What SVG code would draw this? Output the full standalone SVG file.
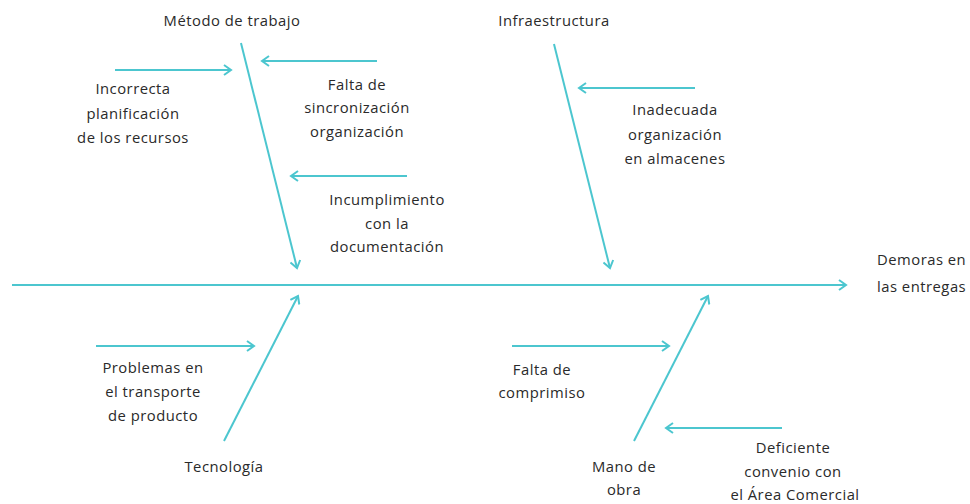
<svg xmlns="http://www.w3.org/2000/svg" width="970" height="504" viewBox="0 0 970 504">
<style>
.c{stroke:#4cc6cf;stroke-width:2;fill:none;marker-end:url(#ah)}
text{font-family:"Open Sans","Liberation Sans",sans-serif;font-size:14.8px;letter-spacing:0.5px;fill:#2a2a2a;text-anchor:middle}
</style>
<defs>
<marker id="ah" viewBox="0 0 12 12" refX="10" refY="6" markerWidth="12" markerHeight="12" markerUnits="userSpaceOnUse" orient="auto">
<path d="M3,1 L10,6 L3,11" fill="none" stroke="#4cc6cf" stroke-width="2"/>
</marker>
</defs>
<rect width="970" height="504" fill="#fff"/>
<g id="connectors">
<line class="c" x1="12" y1="285" x2="846" y2="285"/>
<line class="c" x1="241" y1="43" x2="297" y2="268"/>
<line class="c" x1="554" y1="44" x2="610" y2="268"/>
<line class="c" x1="224" y1="441" x2="298" y2="296"/>
<line class="c" x1="634" y1="441" x2="708" y2="296"/>
<line class="c" x1="115" y1="70" x2="231" y2="70"/>
<line class="c" x1="377" y1="61" x2="262" y2="61"/>
<line class="c" x1="407" y1="176" x2="291" y2="176"/>
<line class="c" x1="695" y1="88" x2="579" y2="88"/>
<line class="c" x1="96" y1="346" x2="254" y2="346"/>
<line class="c" x1="512" y1="346" x2="669" y2="346"/>
<line class="c" x1="782" y1="428" x2="666" y2="428"/>
</g>
<g id="effect"><text x="877" y="265" style="text-anchor:start">Demoras en</text><text x="877" y="292" style="text-anchor:start">las entregas</text></g>
<g id="metodo"><text x="232" y="26">Método de trabajo</text></g>
<g id="infra"><text x="554" y="26">Infraestructura</text></g>
<g id="tecnologia"><text x="224" y="472">Tecnología</text></g>
<g id="mano"><text x="624" y="472">Mano de</text><text x="624" y="495">obra</text></g>
<g id="incorrecta"><text x="133" y="94">Incorrecta</text><text x="133" y="119">planificación</text><text x="133" y="143">de los recursos</text></g>
<g id="falta-sinc"><text x="357" y="90">Falta de</text><text x="357" y="113">sincronización</text><text x="357" y="137">organización</text></g>
<g id="incumplimiento"><text x="387" y="205">Incumplimiento</text><text x="387" y="229">con la</text><text x="387" y="252">documentación</text></g>
<g id="inadecuada"><text x="675" y="115">Inadecuada</text><text x="675" y="140">organización</text><text x="675" y="164">en almacenes</text></g>
<g id="problemas"><text x="153" y="373">Problemas en</text><text x="153" y="397">el transporte</text><text x="153" y="421">de producto</text></g>
<g id="falta-comp"><text x="542" y="375">Falta de</text><text x="542" y="398">comprimiso</text></g>
<g id="deficiente"><text x="793" y="453">Deficiente</text><text x="793" y="477">convenio con</text><text x="795" y="500">el Área Comercial</text></g>
</svg>
